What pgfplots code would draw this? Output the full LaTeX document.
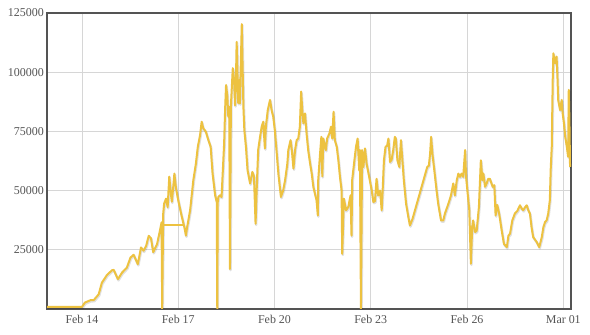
\documentclass[border=0pt]{standalone}
\usepackage{fontspec}
\setmainfont{Liberation Serif}
\usepackage{pgfplots}
\usepackage{pgfplotstable}
\pgfplotsset{compat=1.18}
\definecolor{flotyellow}{HTML}{EDC240}
\definecolor{frame}{HTML}{545454}
\definecolor{gridc}{HTML}{D6D6D6}
\pgfplotstableread{
d v
12.91 900
14.00 900
14.09 2700
14.26 3700
14.37 3800
14.52 6200
14.62 11100
14.78 14400
14.94 16400
14.99 16500
15.12 12600
15.25 15400
15.40 17500
15.51 21700
15.61 22900
15.74 18900
15.84 26000
15.92 24600
16.00 26700
16.08 30900
16.15 29900
16.22 24000
16.34 27400
16.44 33800
16.48 36600
16.50 0
16.53 40000
16.56 44500
16.62 46600
16.67 43000
16.72 55900
16.76 50000
16.80 45300
16.84 51000
16.88 57200
16.93 51000
17.00 45900
17.11 39000
17.19 34600
17.24 31000
17.27 34000
17.37 41700
17.47 54400
17.55 61400
17.61 68500
17.68 73400
17.73 79100
17.78 76300
17.86 74900
17.94 71300
18.01 68500
18.07 57200
18.15 48000
18.20 45200
18.216 0
18.23 45000
18.25 47300
18.30 48000
18.35 47300
18.43 69900
18.46 84000
18.49 94600
18.53 89700
18.56 81200
18.59 85300
18.612 16900
18.64 85500
18.70 101700
18.74 96700
18.77 86000
18.80 98000
18.82 112800
18.87 86900
18.90 96600
18.92 86800
18.98 120300
19.03 85500
19.06 75500
19.11 68500
19.16 58600
19.24 53000
19.31 57900
19.36 56000
19.41 36000
19.44 48700
19.49 67100
19.55 72700
19.60 77000
19.65 79100
19.70 67800
19.73 77000
19.79 84000
19.86 88300
19.91 84000
19.96 81200
20.01 75500
20.07 65700
20.12 57200
20.20 47300
20.27 50100
20.33 54400
20.40 61400
20.43 67100
20.50 71300
20.54 67100
20.59 59300
20.64 67100
20.69 71300
20.74 72000
20.79 77000
20.83 91800
20.87 83000
20.90 78400
20.95 82600
21.00 74000
21.05 67100
21.11 61400
21.16 57200
21.21 51600
21.26 48700
21.31 45900
21.35 39500
21.36 54000
21.42 65700
21.46 72700
21.49 56000
21.52 72000
21.60 67100
21.64 72000
21.71 74100
21.76 77000
21.80 72000
21.84 83300
21.88 71300
21.94 68500
21.99 62800
22.04 55800
22.09 50100
22.11 23300
22.16 46600
22.23 41700
22.30 43100
22.37 48000
22.40 31000
22.42 54400
22.49 62800
22.54 68500
22.59 72000
22.64 58600
22.66 67100
22.694 0
22.73 67100
22.77 60000
22.82 67800
22.87 61400
22.95 55800
23.03 50100
23.08 45200
23.13 45500
23.18 55000
23.23 48000
23.29 50000
23.34 41700
23.37 50000
23.41 62800
23.46 68500
23.51 69000
23.55 72000
23.60 62100
23.65 63000
23.70 67100
23.75 72700
23.78 72000
23.83 62800
23.89 60000
23.94 71300
23.99 62000
24.03 54400
24.10 44500
24.17 38900
24.22 35300
24.30 38000
24.76 60000
24.81 60500
24.85 65700
24.88 72700
24.92 65700
24.98 58600
25.05 50100
25.10 44500
25.19 37400
25.26 37400
25.31 40300
25.42 44500
25.50 48000
25.57 53000
25.62 48000
25.68 54400
25.73 57200
25.78 55800
25.83 57200
25.88 55800
25.94 67100
25.97 55800
26.02 48700
26.07 41700
26.12 19100
26.16 34600
26.19 37400
26.25 32500
26.30 33000
26.37 43100
26.43 62800
26.48 54400
26.51 57200
26.56 51600
26.61 53000
26.66 55000
26.71 55000
26.80 51600
26.85 52300
26.89 39500
26.94 44000
27.00 40300
27.08 33200
27.15 27500
27.24 26100
27.29 31000
27.34 31800
27.41 37400
27.49 40300
27.57 41500
27.65 43800
27.70 42500
27.75 41700
27.81 43000
27.86 43800
27.91 41700
27.96 40300
28.01 34600
28.06 30400
28.17 28300
28.25 26100
28.33 30400
28.38 34600
28.43 36700
28.48 37400
28.53 40300
28.58 45900
28.61 60000
28.64 68500
28.67 96700
28.69 108000
28.74 103800
28.79 106600
28.82 97000
28.84 88300
28.90 84000
28.95 88300
28.98 82600
29.02 78400
29.06 72700
29.11 68500
29.15 64300
29.17 92500
29.19 80000
29.21 60000
}\maindata
\pgfplotstableread{
d v
16.49 35300
17.19 35300
}\gapdata
\begin{document}
\begin{tikzpicture}
\path[use as bounding box] (-47bp,-26bp) rectangle (543bp,309bp);
\begin{axis}[
  at={(0,0)}, anchor=south west,
  scale only axis,
  width=524bp, height=296bp,
  xmin=12.91, xmax=29.24,
  ymin=0, ymax=125000,
  scaled y ticks=false,
  xtick={14,17,20,23,26,29},
  xticklabels={Feb 14,Feb 17,Feb 20,Feb 23,Feb 26,Mar 01},
  ytick={25000,50000,75000,100000,125000},
  yticklabels={25000,50000,75000,100000,125000},
  major tick length=0pt,
  tick style={draw=none},
  grid=major,
  major grid style={draw=gridc, line width=0.8bp},
  axis line style={draw=frame, line width=2.2bp},
  ticklabel style={font=\fontsize{12}{14}\selectfont, text=frame},
  yticklabel style={inner sep=0pt, xshift=-3bp},
  xticklabel style={inner sep=0pt, anchor=north, yshift=-6bp},
]
\addplot[draw=black, opacity=0.12, line width=2.4bp, line join=round, xshift=0.6bp, yshift=-1.2bp] table[x=d,y=v] {\maindata};
\addplot[draw=flotyellow, line width=2bp, line join=round] table[x=d,y=v] {\maindata};
\addplot[draw=flotyellow, line width=2bp] table[x=d,y=v] {\gapdata};
\end{axis}
\end{tikzpicture}
\end{document}
